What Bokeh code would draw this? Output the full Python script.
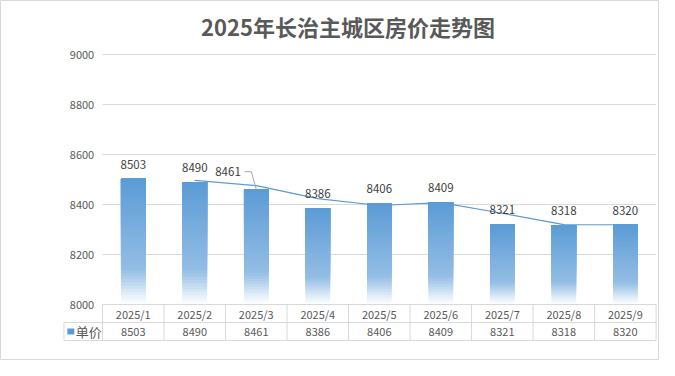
from bokeh.plotting import figure
from bokeh.models import Range1d
from bokeh.core.properties import value
from bokeh.embed import file_html
from bokeh.resources import INLINE

# ---- data ----
months = ["2025/1", "2025/2", "2025/3", "2025/4", "2025/5", "2025/6", "2025/7", "2025/8", "2025/9"]
prices = [8503, 8490, 8461, 8386, 8406, 8409, 8321, 8318, 8320]
trend = [8496.5, 8475.5, 8423.5, 8396, 8407.5, 8365, 8319.5, 8319]  # moving-average trend (months 2..9)
y_ticks = [8000, 8200, 8400, 8600, 8800, 9000]
series_name = "单价"
title_text = "2025年长治主城区房价走势图"

FONT = "Noto Sans CJK SC"
GREY_TXT = "#595959"
GRID = "#D9D9D9"
BLUE = "#5B9BD5"

W, H = 659, 360
SX = W / 675.0               # horizontal squeeze of the reference layout
PX_PER_CAT = 63.0 * SX
X0_FIG = 136.0 * SX          # figure px of category 0 centre
Y_PER_PX = 4.0
BASE = y_ticks[0]

def dx(ref_px):
    return (ref_px * SX - X0_FIG) / PX_PER_CAT

def dy(ref_py):
    return BASE + Y_PER_PX * (304 - ref_py)

p = figure(width=W, height=H, output_backend="svg", toolbar_location=None,
           x_range=Range1d(dx(0), dx(675)), y_range=Range1d(dy(H), dy(0)),
           x_axis_location=None, y_axis_location=None,
           min_border=0, min_border_left=0, min_border_right=0,
           min_border_top=0, min_border_bottom=0)
p.grid.visible = False
p.outline_line_color = GRID
p.outline_line_width = 1
p.background_fill_color = "white"
p.border_fill_color = "white"

n = len(months)
xs = list(range(n))
left_edge = -0.5
right_edge = n - 0.5

# gridlines
p.segment(x0=[left_edge] * len(y_ticks), x1=[right_edge] * len(y_ticks),
          y0=y_ticks, y1=y_ticks, line_color=GRID, line_width=1)

# y tick labels
p.text(x=[dx(96)] * len(y_ticks), y=y_ticks, text=[str(t) for t in y_ticks],
       text_align="right", text_baseline="middle", text_font=value(FONT),
       text_font_size="11px", text_color=GREY_TXT)

# gradient bars
def hex2rgb(h):
    h = h.lstrip("#")
    return tuple(int(h[i:i + 2], 16) for i in (0, 2, 4))

stops = [(0.0, "#FFFFFF"), (0.08, "#E3EEF8"), (0.18, "#B9D4EE"), (0.28, "#93BDE4"),
         (0.6, "#7BAEDE"), (1.0, BLUE)]

def color_at(f):
    for (f0, c0), (f1, c1) in zip(stops[:-1], stops[1:]):
        if f0 <= f <= f1:
            t = (f - f0) / (f1 - f0)
            a, b = hex2rgb(c0), hex2rgb(c1)
            return "#%02x%02x%02x" % tuple(int(round(a[i] + (b[i] - a[i]) * t)) for i in range(3))
    return stops[-1][1]

NSEG = 40
bx, bb, bt, bc = [], [], [], []
for k in range(NSEG):
    f0 = k / NSEG
    for i, v in enumerate(prices):
        h = v - BASE
        bx.append(i)
        bb.append(BASE + h * f0)
        bt.append(v)
        bc.append(color_at(f0 + 0.5 / NSEG))
p.vbar(x=bx, bottom=bb, top=bt, width=0.4, fill_color=bc, line_color=None)

# trend line
p.line(x=xs[1:], y=trend, line_color=BLUE, line_width=1.2)

# data labels
lab_dx = [0.0] * n
lab_dy = [14.5 * Y_PER_PX] * n
lab_dx[2] = -0.46
lab_dy[2] = 17.5 * Y_PER_PX
p.text(x=[x + d for x, d in zip(xs, lab_dx)], y=[v + d for v, d in zip(prices, lab_dy)],
       text=[str(v) for v in prices], text_align="center", text_baseline="middle",
       text_font=value(FONT), text_font_size="11.5px", text_color="#404040")
# leader line for the shifted label
ly = prices[2] + lab_dy[2]
p.line(x=[2 - 0.19, 2 - 0.08, 2], y=[ly, ly, prices[2]], line_color="#A6A6A6", line_width=1)

# data table under the chart
row1_bot = dy(322)
row2_bot = dy(340)
col_left = dx(65)
p.segment(x0=[left_edge, col_left, col_left], x1=[right_edge] * 3,
          y0=[BASE, row1_bot, row2_bot], y1=[BASE, row1_bot, row2_bot],
          line_color=GRID, line_width=1)
vx = [left_edge + k for k in range(n + 1)]
p.segment(x0=vx, x1=vx, y0=[BASE] * len(vx), y1=[row2_bot] * len(vx), line_color=GRID, line_width=1)
p.segment(x0=[col_left], x1=[col_left], y0=[row1_bot], y1=[row2_bot], line_color=GRID, line_width=1)

p.text(x=xs, y=[(BASE + row1_bot) / 2] * n, text=months, text_align="center",
       text_baseline="middle", text_font=value(FONT), text_font_size="11px", text_color=GREY_TXT)
p.text(x=xs, y=[(row1_bot + row2_bot) / 2] * n, text=[str(v) for v in prices], text_align="center",
       text_baseline="middle", text_font=value(FONT), text_font_size="11px", text_color=GREY_TXT)
# legend key + series name
p.rect(x=[dx(72)], y=[(row1_bot + row2_bot) / 2], width=7 / PX_PER_CAT, height=6 * Y_PER_PX,
       fill_color=BLUE, line_color=None)
p.text(x=[dx(77)], y=[(row1_bot + row2_bot) / 2], text=[series_name], text_align="left",
       text_baseline="middle", text_font=value(FONT), text_font_size="13px", text_color=GREY_TXT)

# title
p.text(x=[dx(356)], y=[dy(25)], text=[title_text], text_align="center", text_baseline="middle",
       text_font=value(FONT), text_font_style="bold", text_font_size="22px", text_color=GREY_TXT)

open("out.html", "w").write(file_html(p, INLINE))
